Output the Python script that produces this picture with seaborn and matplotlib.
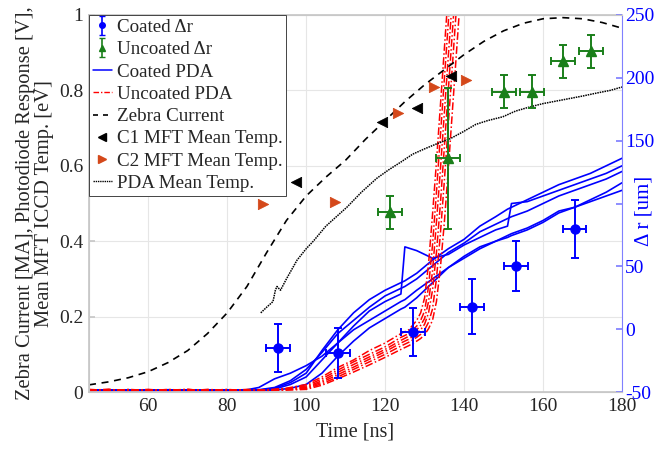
import numpy as np
import matplotlib
matplotlib.use("Agg")
import matplotlib.pyplot as plt
from matplotlib.lines import Line2D
import seaborn as sns

# ---- data ----
# Zebra current (left axis)
zebra_t = [45, 50, 55, 60, 65, 70, 75, 80, 85, 90, 95, 100, 105, 110, 115, 120,
           125, 130, 135, 140, 145, 150, 155, 160, 165, 170, 175, 180]
zebra_v = [0.019, 0.027, 0.038, 0.054, 0.078, 0.11, 0.155, 0.21, 0.28, 0.37, 0.455, 0.52,
           0.57, 0.615, 0.67, 0.72, 0.77, 0.815, 0.855, 0.895, 0.93, 0.958, 0.978, 0.99,
           0.993, 0.99, 0.98, 0.965]

# PDA mean temperature (left axis)
pda_temp_t = [88.5, 90, 91.6, 92.2, 92.6, 93.5, 95, 97.7, 100, 101.8, 105, 110.3, 114, 117.9,
              121, 124, 127, 130, 133, 136.5, 139.7, 143, 146, 149.8, 153, 156.6, 160, 165,
              170, 173.6, 177, 180]
pda_temp_v = [0.21, 0.225, 0.24, 0.27, 0.28, 0.27, 0.30, 0.35, 0.38, 0.40, 0.44, 0.49, 0.53,
              0.567, 0.59, 0.61, 0.631, 0.645, 0.658, 0.672, 0.69, 0.71, 0.72, 0.73, 0.745,
              0.756, 0.765, 0.775, 0.785, 0.793, 0.80, 0.809]

# coated PDA traces (left axis)
coated_pda_t = [45, 50, 55, 60, 65, 70, 75, 80, 84, 88, 92, 96, 100, 104, 108, 112, 116, 120,
                124, 125, 128, 132, 136, 140, 144, 148, 151, 152, 156, 160, 164, 168, 172, 176, 180]
coated_pda_1 = [0.004, 0.006, 0.003, 0.005, 0.004, 0.006, 0.004, 0.005, 0.004, 0.012, 0.035,
                0.05, 0.07, 0.095, 0.13, 0.165, 0.19, 0.215, 0.24, 0.245, 0.27, 0.30, 0.33,
                0.36, 0.385, 0.40, 0.415, 0.42, 0.435, 0.455, 0.48, 0.49, 0.505, 0.52, 0.535]
coated_pda_2 = [0.005, 0.003, 0.006, 0.004, 0.005, 0.003, 0.006, 0.004, 0.005, 0.006, 0.012,
                0.03, 0.06, 0.105, 0.155, 0.19, 0.225, 0.255, 0.275, 0.28, 0.30, 0.335, 0.37,
                0.395, 0.425, 0.445, 0.46, 0.465, 0.48, 0.50, 0.52, 0.535, 0.55, 0.565, 0.585]
coated_pda_3 = [0.003, 0.005, 0.004, 0.006, 0.003, 0.005, 0.004, 0.006, 0.003, 0.005, 0.01,
                0.025, 0.05, 0.11, 0.165, 0.21, 0.245, 0.27, 0.29, 0.295, 0.315, 0.35, 0.38,
                0.405, 0.44, 0.465, 0.485, 0.49, 0.51, 0.53, 0.55, 0.565, 0.58, 0.60, 0.62]
coated_pda_4 = [0.006, 0.004, 0.005, 0.003, 0.006, 0.004, 0.005, 0.003, 0.006, 0.004, 0.008,
                0.02, 0.04, 0.085, 0.13, 0.175, 0.215, 0.24, 0.26, 0.385, 0.375, 0.355, 0.365,
                0.39, 0.41, 0.43, 0.44, 0.50, 0.505, 0.52, 0.535, 0.55, 0.565, 0.58, 0.60]
coated_pda_5 = [0.004, 0.005, 0.003, 0.004, 0.006, 0.005, 0.003, 0.004, 0.005, 0.003, 0.005,
                0.01, 0.02, 0.05, 0.095, 0.135, 0.17, 0.195, 0.22, 0.225, 0.25, 0.29, 0.33,
                0.355, 0.38, 0.40, 0.41, 0.415, 0.43, 0.45, 0.475, 0.49, 0.51, 0.53, 0.555]

# uncoated PDA traces (left axis)
uncoated_pda_t = [45, 50, 55, 60, 65, 70, 75, 80, 85, 90, 95, 100, 104, 108, 112, 116, 120,
                  124, 126, 128, 129, 130, 131, 132, 133, 134, 135, 136, 137, 138, 139, 140]
uncoated_pda_1 = [0.004, 0.007, 0.003, 0.006, 0.004, 0.007, 0.003, 0.006, 0.004, 0.006, 0.01,
                  0.02, 0.04, 0.065, 0.085, 0.11, 0.13, 0.155, 0.165, 0.19, 0.21, 0.25, 0.34,
                  0.47, 0.61, 0.76, 0.91, 1.06, 1.21, 1.36, 1.5, 1.65]
uncoated_pda_2 = [0.006, 0.003, 0.007, 0.004, 0.006, 0.003, 0.007, 0.004, 0.006, 0.004, 0.009,
                  0.016, 0.035, 0.058, 0.08, 0.10, 0.12, 0.145, 0.155, 0.175, 0.19, 0.215, 0.28,
                  0.39, 0.53, 0.68, 0.83, 0.98, 1.13, 1.28, 1.43, 1.58]
uncoated_pda_3 = [0.003, 0.006, 0.004, 0.007, 0.003, 0.006, 0.004, 0.007, 0.003, 0.005, 0.008,
                  0.013, 0.03, 0.052, 0.073, 0.093, 0.113, 0.137, 0.148, 0.165, 0.177, 0.195,
                  0.24, 0.32, 0.45, 0.59, 0.74, 0.89, 1.04, 1.19, 1.34, 1.49]
uncoated_pda_4 = [0.007, 0.004, 0.006, 0.003, 0.007, 0.004, 0.006, 0.003, 0.007, 0.004, 0.007,
                  0.011, 0.026, 0.046, 0.066, 0.087, 0.107, 0.13, 0.14, 0.155, 0.165, 0.18,
                  0.21, 0.27, 0.37, 0.50, 0.65, 0.80, 0.95, 1.10, 1.25, 1.4]
uncoated_pda_5 = [0.005, 0.007, 0.003, 0.006, 0.005, 0.007, 0.003, 0.006, 0.005, 0.003, 0.006,
                  0.009, 0.022, 0.04, 0.06, 0.08, 0.10, 0.122, 0.132, 0.145, 0.153, 0.165,
                  0.185, 0.22, 0.30, 0.42, 0.56, 0.71, 0.86, 1.01, 1.16, 1.31]
uncoated_pda_6 = [0.004, 0.005, 0.006, 0.004, 0.003, 0.005, 0.006, 0.004, 0.003, 0.005, 0.005,
                  0.007, 0.018, 0.035, 0.053, 0.072, 0.092, 0.113, 0.123, 0.135, 0.142, 0.152,
                  0.168, 0.19, 0.24, 0.33, 0.45, 0.59, 0.74, 0.89, 1.04, 1.19]

# MFT mean temperatures (left axis)
c1_t = [97.4, 119.2, 128.0, 136.6]
c1_v = [0.557, 0.716, 0.753, 0.838]
c2_t = [89.1, 107.3, 123.2, 132.5, 140.5]
c2_v = [0.50, 0.504, 0.74, 0.809, 0.828]

# delta r (right axis)
coated_t = [92.8, 108.0, 127.0, 142.0, 153.1, 168.0]
coated_r = [-15, -19, -2, 18, 50, 80]
coated_r_err = [19, 20, 19, 22, 20, 23]
coated_t_err = [3, 3, 3, 3, 3, 3]

uncoated_t = [121.2, 135.9, 150.1, 157.2, 165.0, 172.1]
uncoated_r = [93, 136, 189, 189, 213, 221]
uncoated_r_err = [13, 56, 13, 13, 13, 13]
uncoated_t_err = [3, 3, 3, 3, 3, 3]

x_ticks = [60, 80, 100, 120, 140, 160, 180]
y_ticks = [0, 0.2, 0.4, 0.6, 0.8, 1]
y_tick_labels = ["0", "0.2", "0.4", "0.6", "0.8", "1"]
r_ticks = [-50, 0, 50, 100, 150, 200, 250]
# the 100 label sits under the axis title in the original
r_tick_labels = ["-50", "0", "50", "", "150", "200", "250"]

# ---- style ----
sns.set_theme(style="white")
plt.rcParams['font.family'] = ['Liberation Serif', 'DejaVu Serif']
plt.rcParams['mathtext.fontset'] = 'stix'

BLUE = "#0000FF"
RED = "#FF0000"
GREEN = "#1A7F1A"
ORANGE = "#D4481A"
AXCOL = "#C8C8C8"
TXT = "#262626"

fig = plt.figure(figsize=(6.58, 4.49), dpi=100)
ax = fig.add_axes([0.1353, 0.1269, 0.8100, 0.8397])
ax2 = ax.twinx()

# left axis lines
for yy in [coated_pda_1, coated_pda_2, coated_pda_3, coated_pda_4, coated_pda_5]:
    sns.lineplot(x=coated_pda_t, y=yy, ax=ax, color=BLUE, lw=1.2)
for yy in [uncoated_pda_1, uncoated_pda_2, uncoated_pda_3, uncoated_pda_4,
           uncoated_pda_5, uncoated_pda_6]:
    sns.lineplot(x=uncoated_pda_t, y=yy, ax=ax, color=RED, lw=1.1,
                 linestyle=(0, (5, 1.6, 1, 1.6)))
sns.lineplot(x=zebra_t, y=zebra_v, ax=ax, color="black", lw=1.2,
             linestyle=(0, (4.2, 3.4)))
sns.lineplot(x=pda_temp_t, y=pda_temp_v, ax=ax, color="black", lw=1.1,
             linestyle=(0, (1, 0.6)))
sns.scatterplot(x=c1_t, y=c1_v, ax=ax, marker="<", s=55, color="black",
                edgecolor="black", zorder=5)
sns.scatterplot(x=c2_t, y=c2_v, ax=ax, marker=">", s=55, color=ORANGE,
                edgecolor=ORANGE, zorder=5)

# right axis error bars
ax2.errorbar(coated_t, coated_r, yerr=coated_r_err, xerr=coated_t_err, fmt="o",
             color=BLUE, ms=6.5, lw=1.4, capsize=3, capthick=1.4)
ax2.errorbar(uncoated_t, uncoated_r, yerr=uncoated_r_err, xerr=uncoated_t_err, fmt="^",
             color=GREEN, ms=6.5, lw=1.4, capsize=3, capthick=1.4)

# axes
ax.set_xlim(45, 180)
ax.set_ylim(0, 1)
ax2.set_ylim(-50, 250)
ax.set_xticks(x_ticks)
ax.set_yticks(y_ticks)
ax.set_yticklabels(y_tick_labels)
ax2.set_yticks(r_ticks)
ax2.set_yticklabels(r_tick_labels)

ax.grid(True, color="#E6E6E6", lw=0.8)
ax2.grid(False)
ax.tick_params(axis="both", direction="in", length=4, labelsize=14, colors=AXCOL,
               labelcolor=TXT, pad=4)
ax2.tick_params(axis="y", direction="in", length=4, labelsize=14, colors="#8080FF",
                labelcolor=BLUE, pad=2)
for side in ["left", "bottom", "top"]:
    ax.spines[side].set_color(AXCOL)
    ax2.spines[side].set_color(AXCOL)
ax.spines["right"].set_visible(False)
ax2.spines["right"].set_color("#8080FF")
for sp in ax2.spines.values():
    sp.set_linewidth(0.8)

ax.set_xlabel("Time [ns]", fontsize=14.5, color=TXT, labelpad=6)
ax.set_ylabel("Zebra Current [MA], Photodiode Response [V],\nMean MFT ICCD Temp. [eV]",
              fontsize=14.8, color=TXT, labelpad=4, linespacing=0.95)
ax2.set_ylabel("Δ r [um]", fontsize=15, color=BLUE)
ax2.yaxis.set_label_coords(1.024, 0.48)

# legend
h_coated = ax2.errorbar([np.nan], [np.nan], yerr=[1], fmt="o", color=BLUE, ms=4,
                        lw=1.2, capsize=2)
h_uncoated = ax2.errorbar([np.nan], [np.nan], yerr=[1], fmt="^", color=GREEN, ms=4,
                          lw=1.2, capsize=2)
handles = [
    h_coated,
    h_uncoated,
    Line2D([], [], color=BLUE, lw=1.1),
    Line2D([], [], color=RED, lw=1.0, linestyle=(0, (4, 1.4, 1, 1.4))),
    Line2D([], [], color="black", lw=1.2, linestyle=(0, (3, 3))),
    Line2D([], [], color="black", marker="<", ls="none", ms=6),
    Line2D([], [], color=ORANGE, marker=">", ls="none", ms=6),
    Line2D([], [], color="black", lw=1.0, linestyle=(0, (1, 0.6))),
]
labels = ["Coated Δr", "Uncoated Δr", "Coated PDA", "Uncoated PDA", "Zebra Current",
          "C1 MFT Mean Temp.", "C2 MFT Mean Temp.", "PDA Mean Temp."]
leg = ax2.legend(handles, labels, loc="upper left", bbox_to_anchor=(0, 1),
                 borderaxespad=0, fontsize=13.7, frameon=True, fancybox=False,
                 framealpha=1, edgecolor="#444444", handlelength=1.0,
                 handletextpad=0.25, labelspacing=0.26, borderpad=0.2)
leg.get_frame().set_linewidth(0.7)
for t in leg.get_texts():
    t.set_color(TXT)

fig.savefig("out.png", dpi=100)
